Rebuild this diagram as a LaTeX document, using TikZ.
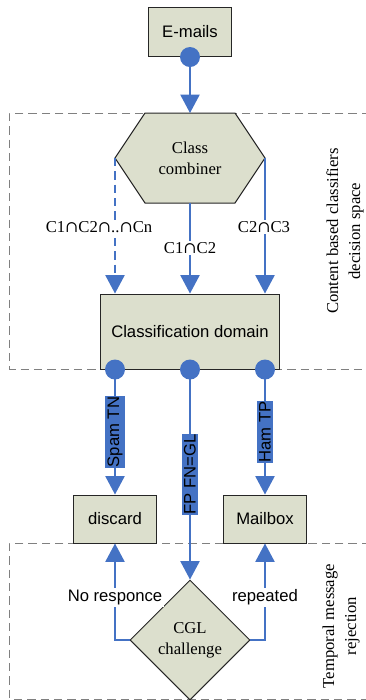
\documentclass[tikz,border=0pt]{standalone}
\usepackage{fontspec}
\setmainfont{Liberation Serif}
\setsansfont{Liberation Sans}
\newfontfamily\capfont[Scale=0.95]{DejaVu Serif}
\newcommand{\capsym}{{\capfont ∩}}
\usetikzlibrary{arrows.meta,shapes.geometric}
\definecolor{boxfill}{RGB}{220,223,205}
\definecolor{linkblue}{RGB}{68,114,196}
\definecolor{zonegray}{RGB}{128,128,128}

\begin{document}
\begin{tikzpicture}[x=0.6pt,y=-0.6pt,
   box/.style={draw=black!85,fill=boxfill,line width=0.6pt,font=\sffamily\fontsize{10}{12}\selectfont},
   link/.style={draw=linkblue,line width=0.9pt,-{Triangle[width=11.5pt,length=11pt]}},
   zone/.style={draw=zonegray,line width=0.6pt,dash pattern=on 5pt off 3pt},
   tag/.style={fill=linkblue,rotate=90,inner xsep=0.5pt,inner ysep=1.5pt,font=\sffamily\fontsize{10}{12}\selectfont},
   cut/.style={fill=white,inner sep=1pt},
   serif10/.style={font=\rmfamily\fontsize{10}{12.6}\selectfont,align=center}]
         \useasboundingbox (0,0) rectangle (366,700) ;
         % decision zones
         \draw[zone] (370,113) -- (10,113) -- (10,369) -- (370,369) ;
         \draw[zone] (370,543) -- (10,543) -- (10,699) -- (370,699) ;
         \node[rotate=90,serif10,font=\rmfamily\fontsize{10}{13.2}\selectfont] (sideA) at (345,231)
         {Content based classifiers\\decision space} ;
         \node[rotate=90,serif10,font=\rmfamily\fontsize{10}{13.2}\selectfont] (sideB) at (341,626)
         {Temporal message\\rejection} ;
         % input and combiner
         \node[box,minimum width=50.4pt,minimum height=29.4pt] (mail) at (190,32) {E-mails} ;
         \coordinate (hexN) at (190,113) ;
         \coordinate (hexW) at (115,158) ;
         \coordinate (hexE) at (265,158) ;
         \coordinate (hexS) at (190,203) ;
         \draw[box] (145,113) -- (235,113) -- (hexE) -- (235,203) -- (145,203) -- (hexW) -- cycle ;
         \node[serif10] (comb) at (190,158) {Class\\combiner} ;
         \node[box,minimum width=107.4pt,minimum height=45pt] (cls) at (190,331.5) {Classification domain} ;
         \draw[link] (mail.south) -- (hexN) ;
         \draw[link,dash pattern=on 5pt off 3pt] (hexW) -- (hexW |- cls.north) ;
         \draw[link] (hexS) -- (cls.north) ;
         \draw[link] (hexE) -- (hexE |- cls.north) ;
         \node[cut,serif10] (capN) at (99,227) {C1\capsym C2\capsym..\capsym Cn} ;
         \node[cut,serif10] (capA) at (190,248) {C1\capsym C2} ;
         \node[cut,serif10] (capB) at (264,227) {C2\capsym C3} ;
         % outputs
         \node[box,minimum width=50.4pt,minimum height=28.8pt] (disc) at (115,519) {discard} ;
         \node[box,minimum width=50.4pt,minimum height=28.8pt] (mbox) at (265,519) {Mailbox} ;
         \node[diamond,draw=black!85,fill=boxfill,line width=0.6pt,minimum width=72pt,minimum height=72pt,
         inner sep=0pt,serif10] (cgl) at (190,640) {CGL\\challenge} ;
         \draw[link] (disc.north |- cls.south) -- node[tag] {Spam TN} (disc.north) ;
         \draw[link] (cls.south) -- node[tag] {FP FN=GL} (cgl.north) ;
         \draw[link] (mbox.north |- cls.south) -- node[tag] {Ham TP} (mbox.north) ;
         \draw[link] (cgl.west) -| node[cut,pos=0.72,font=\sffamily\fontsize{10}{12}\selectfont] {No responce} (disc.south) ;
         \draw[link] (cgl.east) -| node[cut,pos=0.72,font=\sffamily\fontsize{10}{12}\selectfont] {repeated} (mbox.south) ;
         % blue ports
         \fill[linkblue] (mail.south) circle (6pt) ;
         \fill[linkblue] (disc.north |- cls.south) circle (6pt) ;
         \fill[linkblue] (cls.south) circle (6pt) ;
         \fill[linkblue] (mbox.north |- cls.south) circle (6pt) ;
\end{tikzpicture}
\end{document}
